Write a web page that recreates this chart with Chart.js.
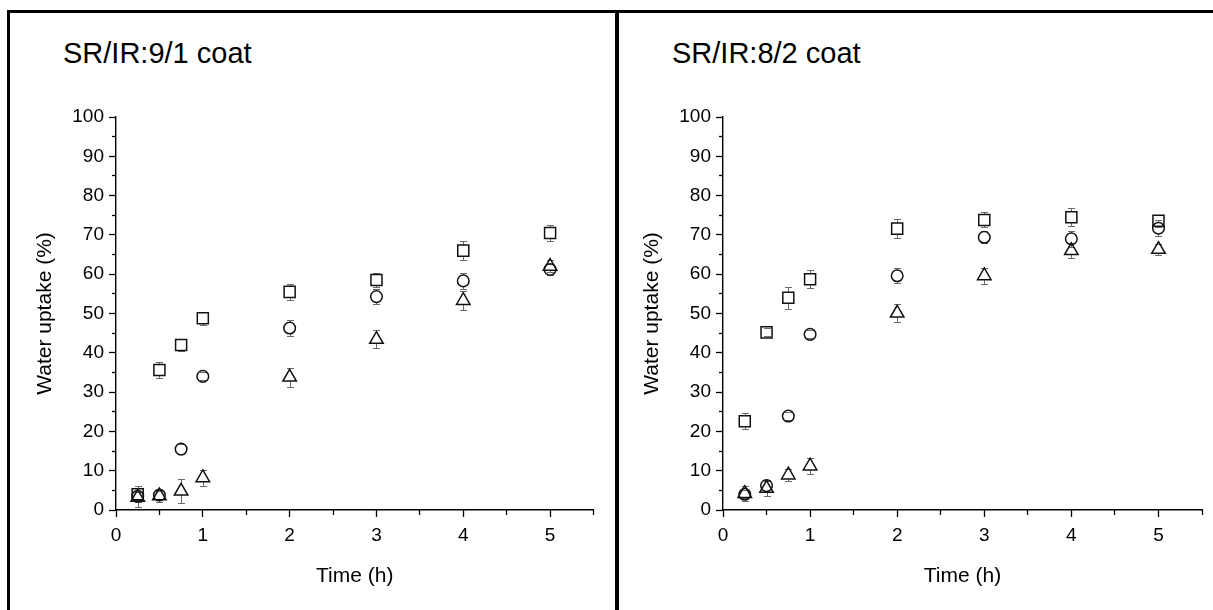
<!DOCTYPE html>
<html>
<head>
<meta charset="utf-8">
<script src="https://cdn.jsdelivr.net/npm/chart.js@4.4.0/dist/chart.umd.min.js"></script>
<style>
html,body{margin:0;padding:0;background:#fff;}
body{width:1213px;height:610px;position:relative;overflow:hidden;font-family:"Liberation Sans",Arial,sans-serif;}
.line{position:absolute;background:#000;}
.title{position:absolute;font-size:29px;line-height:1;color:#000;white-space:nowrap;}
canvas{position:absolute;}
</style>
</head>
<body>
<div class="line" style="left:7px;top:10px;width:1206px;height:3px"></div>
<div class="line" style="left:7px;top:10px;width:3px;height:600px"></div>
<div class="line" style="left:615px;top:10px;width:4px;height:600px"></div>
<div class="title" style="left:63px;top:39px">SR/IR:9/1 coat</div>
<div class="title" style="left:672px;top:39px">SR/IR:8/2 coat</div>
<canvas id="c1" width="605" height="597" style="left:10px;top:13px"></canvas>
<canvas id="c2" width="594" height="597" style="left:619px;top:13px"></canvas>
<script>
// ---- data ----
const timeH = [0.25, 0.5, 0.75, 1, 2, 3, 4, 5];
const xTicks = [0, 1, 2, 3, 4, 5];
const xMinorTicks = [0.5, 1.5, 2.5, 3.5, 4.5, 5.5];
const yTicks = [0, 10, 20, 30, 40, 50, 60, 70, 80, 90, 100];
const yMinorTicks = [5, 15, 25, 35, 45, 55, 65, 75, 85, 95];

const titles = ['SR/IR:9/1 coat', 'SR/IR:8/2 coat'];

// SR/IR 9/1
const p1Square = [4.0, 35.6, 42.0, 48.8, 55.5, 58.5, 66.0, 70.5];
const p1SquareErr = [2.0, 2.0, 1.5, 1.7, 2.0, 1.8, 2.4, 2.0];
const p1Circle = [3.5, 3.8, 15.5, 34.0, 46.3, 54.3, 58.3, 61.2];
const p1CircleErr = [1.0, 1.0, 1.3, 1.0, 2.0, 1.9, 2.0, 1.5];
const p1Triangle = [3.2, 3.6, 4.8, 8.2, 33.8, 43.4, 53.3, 62.0];
const p1TriangleErr = [2.5, 1.5, 3.0, 2.0, 2.4, 2.3, 2.5, 1.5];

// SR/IR 8/2
const p2Square = [22.6, 45.2, 54.0, 58.7, 71.6, 73.8, 74.5, 73.6];
const p2SquareErr = [2.0, 1.0, 2.8, 2.3, 2.4, 1.9, 2.3, 1.5];
const p2Circle = [4.0, 6.2, 23.9, 44.7, 59.6, 69.4, 69.0, 71.7];
const p2CircleErr = [1.0, 1.5, 1.0, 1.0, 1.9, 1.5, 2.0, 2.0];
const p2Triangle = [4.2, 5.5, 8.9, 11.2, 50.1, 59.6, 66.0, 66.3];
const p2TriangleErr = [2.0, 2.0, 1.5, 2.0, 2.3, 2.0, 2.0, 1.5];

// ---- helpers ----
const FONT = '"Liberation Sans", Arial, sans-serif';
const toPts = vals => timeH.map((t, i) => ({x: t, y: vals[i]}));

const styles = {
  square:   {pointStyle: 'rect',     pointRadius: 7.8, markerUp: 5.5, markerDown: 5.5},
  circle:   {pointStyle: 'circle',   pointRadius: 5.8, markerUp: 5.8, markerDown: 5.8},
  triangle: {pointStyle: 'triangle', pointRadius: 7.8, markerUp: 7.8, markerDown: 3.9}
};

function ds(vals, errs, kind) {
  const s = styles[kind];
  return {
    data: toPts(vals),
    errorBars: errs,
    markerUp: s.markerUp,
    markerDown: s.markerDown,
    showLine: false,
    pointStyle: s.pointStyle,
    pointRadius: s.pointRadius,
    pointHoverRadius: s.pointRadius,
    pointBorderColor: '#111',
    pointBackgroundColor: 'rgba(0,0,0,0)',
    pointBorderWidth: 1.5,
    clip: false
  };
}

const errorBarPlugin = {
  id: 'errorBars',
  beforeDatasetsDraw(chart) {
    const {ctx, scales: {x, y}} = chart;
    ctx.save();
    ctx.strokeStyle = '#6a6a6a';
    ctx.lineWidth = 1;
    chart.data.datasets.forEach(d => {
      if (!d.errorBars) return;
      d.data.forEach((pt, j) => {
        const e = d.errorBars[j];
        const px = Math.round(x.getPixelForValue(pt.x)) + 0.5;
        const py = y.getPixelForValue(pt.y);
        const yTop = Math.round(y.getPixelForValue(pt.y + e)) + 0.5;
        const yBot = Math.round(y.getPixelForValue(pt.y - e)) + 0.5;
        const up = py - d.markerUp, dn = py + d.markerDown;
        ctx.beginPath();
        if (yTop < up) { ctx.moveTo(px, up); ctx.lineTo(px, yTop); }
        if (yBot > dn) { ctx.moveTo(px, dn); ctx.lineTo(px, yBot); }
        ctx.moveTo(px - 3.5, yTop); ctx.lineTo(px + 3.5, yTop);
        ctx.moveTo(px - 3.5, yBot); ctx.lineTo(px + 3.5, yBot);
        ctx.stroke();
      });
    });
    ctx.restore();
  }
};

function makeChart(id, datasets, yAxisWidth, padRight, yTitlePad) {
  const tickFont = {family: FONT, size: 19};
  const titleFont = {family: FONT, size: 21};
  return new Chart(document.getElementById(id), {
    type: 'scatter',
    data: {datasets},
    plugins: [errorBarPlugin],
    options: {
      responsive: false,
      animation: false,
      events: [],
      layout: {padding: {top: 104, right: padRight, left: 0, bottom: 0}},
      plugins: {legend: {display: false}, tooltip: {enabled: false}, title: {display: false}},
      scales: {
        x: {
          type: 'linear', position: 'bottom', min: 0, max: 5.5, weight: 1,
          afterFit: s => { s.height = 100; },
          afterBuildTicks: s => { s.ticks = xTicks.map(v => ({value: v})); },
          ticks: {font: tickFont, color: '#000', padding: 7, maxRotation: 0, autoSkip: false, callback: v => String(v)},
          grid: {drawOnChartArea: false, tickLength: 7, tickColor: '#000', tickWidth: 1.3},
          border: {color: '#000', width: 1.4},
          title: {display: true, text: 'Time (h)', font: titleFont, color: '#000', padding: {top: 0, bottom: 21}}
        },
        xMinor: {
          type: 'linear', position: 'bottom', min: 0, max: 5.5, weight: 0,
          afterFit: s => { s.height = 0; },
          afterBuildTicks: s => { s.ticks = xMinorTicks.map(v => ({value: v})); },
          ticks: {display: false},
          grid: {drawOnChartArea: false, tickLength: 5, tickColor: '#000', tickWidth: 1.3},
          border: {display: false}
        },
        y: {
          type: 'linear', position: 'left', min: 0, max: 100, weight: 1,
          afterFit: s => { s.width = yAxisWidth; },
          afterBuildTicks: s => { s.ticks = yTicks.map(v => ({value: v})); },
          ticks: {font: tickFont, color: '#000', padding: 5, autoSkip: false, callback: v => String(v)},
          grid: {drawOnChartArea: false, tickLength: 7, tickColor: '#000', tickWidth: 1.3},
          border: {color: '#000', width: 1.4},
          title: {display: true, text: 'Water uptake (%)', font: titleFont, color: '#000', padding: {top: yTitlePad, bottom: 0}}
        },
        yMinor: {
          type: 'linear', position: 'left', min: 0, max: 100, weight: 0,
          afterFit: s => { s.width = 0; },
          afterBuildTicks: s => { s.ticks = yMinorTicks.map(v => ({value: v})); },
          ticks: {display: false},
          grid: {drawOnChartArea: false, tickLength: 4, tickColor: '#000', tickWidth: 1.3},
          border: {display: false}
        }
      }
    }
  });
}

makeChart('c1', [
  ds(p1Square, p1SquareErr, 'square'),
  ds(p1Circle, p1CircleErr, 'circle'),
  ds(p1Triangle, p1TriangleErr, 'triangle')
], 106, 21.5, 23);

makeChart('c2', [
  ds(p2Square, p2SquareErr, 'square'),
  ds(p2Circle, p2CircleErr, 'circle'),
  ds(p2Triangle, p2TriangleErr, 'triangle')
], 104, 11, 21);
</script>
</body>
</html>
